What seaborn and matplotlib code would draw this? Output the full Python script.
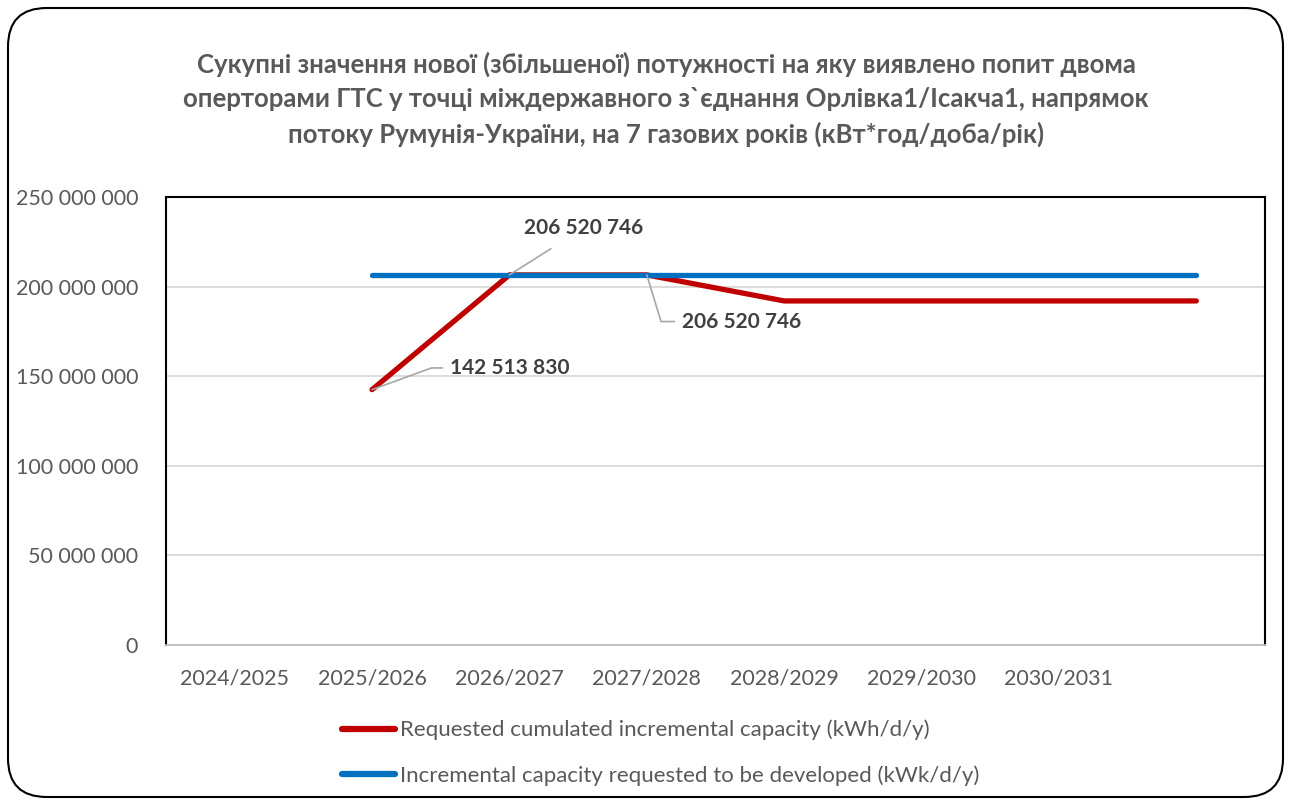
import numpy as np
import pandas as pd
import matplotlib
matplotlib.use("Agg")
import matplotlib.pyplot as plt
import seaborn as sns
from matplotlib.patches import FancyBboxPatch
from matplotlib.ticker import FuncFormatter

categories = ["2024/2025", "2025/2026", "2026/2027", "2027/2028", "2028/2029",
              "2029/2030", "2030/2031", ""]
requested = [np.nan, 142513830, 206520746, 206520746, 192000000, 192000000, 192000000, 192000000]
developed = [np.nan, 206520746, 206520746, 206520746, 206520746, 206520746, 206520746, 206520746]
series_names = ["Requested cumulated incremental capacity (kWh/d/y)",
                "Incremental capacity requested to be developed (kWk/d/y)"]
title = ("Сукупні значення нової (збільшеної) потужності на яку виявлено попит двома\n"
         "оперторами ГТС у точці міждержавного з`єднання Орлівка1/Ісакча1, напрямок\n"
         "потоку Румунія-України, на 7 газових років (кВт*год/доба/рік)")

sns.set_theme(style="white")
plt.rcParams['font.family'] = ['Lato', 'DejaVu Sans']

df = pd.DataFrame({
    "x": list(range(len(categories))) * 2,
    "value": requested + developed,
    "series": [series_names[0]] * len(categories) + [series_names[1]] * len(categories),
})

fig = plt.figure(figsize=(12.91, 8.05), dpi=100)
ax = fig.add_axes([166/1291, 1-645/805, (1265-166)/1291, (645-197)/805])

gray = "#595959"
sns.lineplot(data=df, x="x", y="value", hue="series", hue_order=series_names,
             palette=["#C00000", "#0070C0"], linewidth=3.8, ax=ax, legend=True,
             solid_capstyle="round")

ax.set_xlim(-0.5, len(categories) - 0.5)
ax.set_ylim(0, 250_000_000)
ax.set_yticks(np.arange(0, 250_000_001, 50_000_000))
ax.yaxis.set_major_formatter(FuncFormatter(lambda v, p: f"{int(v):,}".replace(",", " ")))
ax.set_xticks(range(len(categories)))
ax.set_xticklabels(categories)
ax.tick_params(axis="both", labelsize=15.5, colors=gray, length=0)
ax.tick_params(axis="x", pad=17)
ax.tick_params(axis="y", pad=20)
ax.set_xlabel("")
ax.set_ylabel("")
ax.yaxis.grid(True, color="#d9d9d9", linewidth=1.3)
ax.set_axisbelow(True)
for s in ["left", "top", "right"]:
    ax.spines[s].set_color("black")
    ax.spines[s].set_linewidth(1.5)
ax.spines["bottom"].set_color("#bfbfbf")
ax.spines["bottom"].set_linewidth(1.3)

# data labels
lab_kw = dict(fontsize=15, fontweight="bold", color="#404040")
ax.annotate(f"{requested[2]:,}".replace(",", " "), xy=(2, requested[2]),
            xytext=(2.54, 232_700_000), ha="center", va="center", **lab_kw,
            arrowprops=dict(arrowstyle="-", color="#a6a6a6", lw=1.2, shrinkA=10, shrinkB=0))
ax.annotate(f"{requested[3]:,}".replace(",", " "), xy=(3, requested[3]),
            xytext=(3.255, 180_500_000), ha="left", va="center", **lab_kw,
            arrowprops=dict(arrowstyle="-", color="#a6a6a6", lw=1.2, shrinkA=3, shrinkB=0,
                            connectionstyle="angle,angleA=0,angleB=107,rad=0"))
ax.annotate(f"{requested[1]:,}".replace(",", " "), xy=(1, requested[1]),
            xytext=(1.567, 154_600_000), ha="left", va="center", **lab_kw,
            arrowprops=dict(arrowstyle="-", color="#a6a6a6", lw=1.2, shrinkA=3, shrinkB=0,
                            connectionstyle="angle,angleA=0,angleB=20,rad=0"))

fig.text(0.516, 0.936, title, ha="center", va="top", fontsize=18.5, fontweight="bold",
         color=gray, linespacing=1.5)

leg = ax.legend(loc="upper left", bbox_to_anchor=(333/1291, 1-711/805),
                bbox_transform=fig.transFigure, frameon=False, fontsize=16,
                handlelength=2.4, handletextpad=0.2, labelspacing=1.1, borderaxespad=0)
for t in leg.get_texts():
    t.set_color(gray)
for l in leg.get_lines():
    l.set_linewidth(4.5)

border = FancyBboxPatch((8/1291, 8/805), 1-16/1291, 1-16/805,
                        boxstyle="round,pad=0,rounding_size=0.03",
                        transform=fig.transFigure, fill=False, edgecolor="black",
                        linewidth=1.5, mutation_aspect=1291/805)
fig.patches.append(border)

fig.savefig("out.png", dpi=100)
